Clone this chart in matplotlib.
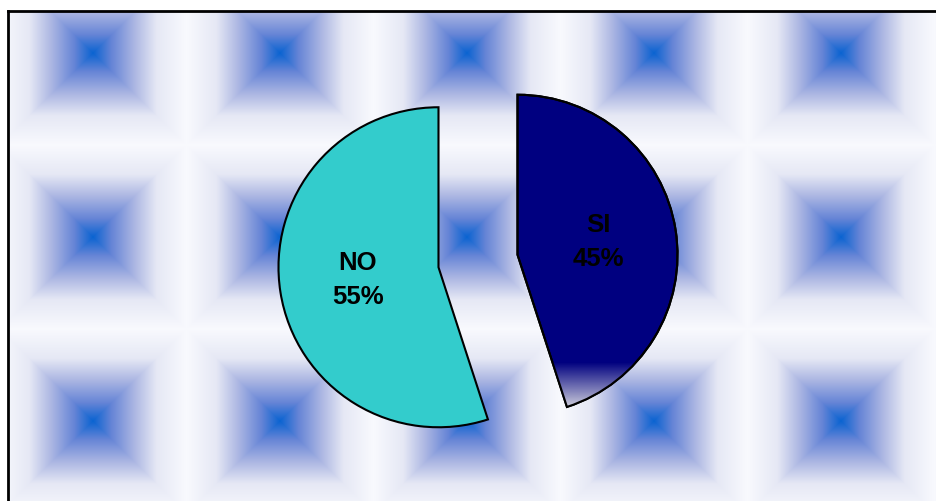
import numpy as np
import matplotlib.pyplot as plt
from matplotlib.patches import Wedge

names = ['SI', 'NO']
values = [45, 55]
colors = ['#000080', '#33cccc']

W, H = 936, 501
fig = plt.figure(figsize=(W / 100, H / 100), dpi=100)

# background: tiled blue pyramids
bg = fig.add_axes([0, 0, 1, 1])
bg.set_xlim(0, W)
bg.set_ylim(H, 0)
bg.axis('off')
px, py = np.meshgrid(np.arange(9, W) + 0.5, np.arange(12, H) + 0.5)
dx = np.mod(px - 93 + 93.5, 187) - 93.5
dy = np.mod(py - 53 + 92, 184) - 92
d = np.maximum(np.abs(dx) / 93.5, np.abs(dy) / 92)
stops = [0, 0.2, 0.45, 0.68, 1]
rgb = [(0.04, 0.39, 0.82), (0.40, 0.52, 0.84), (0.68, 0.72, 0.89),
       (0.90, 0.91, 0.96), (0.975, 0.978, 0.995)]
img = np.stack([np.interp(d, stops, [c[k] for c in rgb]) for k in range(3)], axis=-1)
bg.imshow(img, extent=(9, W, H, 12), interpolation='bilinear', zorder=0)
bg.plot([8, 8], [H, 11], color='black', lw=2, solid_capstyle='projecting')
bg.plot([8, W], [11, 11], color='black', lw=2, solid_capstyle='projecting')

# pie
cx, cy, r = 478, 261, 160
ax = fig.add_axes([0, 0, 1, 1])
ax.set_xlim(-cx / r, (W - cx) / r)
ax.set_ylim(-(H - cy) / r, cy / r)
ax.axis('off')
wedges, _, autotexts = ax.pie(values, colors=colors, startangle=90, counterclock=False,
                              explode=[0.25, 0.25], autopct='%1.0f%%', pctdistance=0.51,
                              wedgeprops=dict(edgecolor='black', linewidth=1.5))
for name, at in zip(names, autotexts):
    at.set_text(name + '\n' + at.get_text())
    at.set_fontfamily('Liberation Sans')
    at.set_fontweight('bold')
    at.set_fontsize(18.5)
    at.set_linespacing(1.55)
    at.set_color('black')

# faded bottom of the SI slice
w0 = wedges[0]
y_top = (cy - 362) / r
y_bot = (cy - 406) / r
grad = np.linspace(0, 1, 60)[:, None]
navy = np.array([0.0, 0.0, 0.5])
grey = np.array([0.78, 0.78, 0.85])
gimg = navy + (grey - navy) * grad[..., None]
gimg = np.repeat(gimg, 2, axis=1)
im = ax.imshow(gimg, extent=(0, 2, y_bot, y_top), aspect='auto', zorder=2,
               interpolation='bilinear')
im.set_clip_path(w0)
edge = Wedge(w0.center, w0.r, w0.theta1, w0.theta2, fill=False,
             edgecolor='black', linewidth=1.5, zorder=3)
ax.add_patch(edge)
ax.set_xlim(-cx / r, (W - cx) / r)
ax.set_ylim(-(H - cy) / r, cy / r)

fig.savefig('out.png', dpi=100)
